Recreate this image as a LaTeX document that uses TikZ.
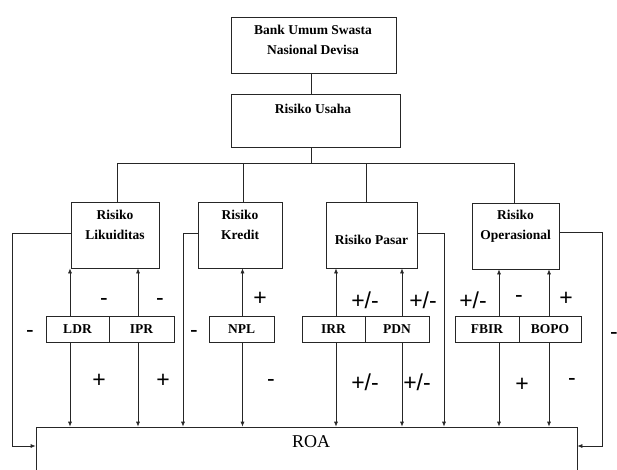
\documentclass[tikz,border=0pt]{standalone}
\usepackage{fontspec}
\setmainfont{Liberation Serif}
\newfontfamily\sgnfont{Liberation Sans}
\usetikzlibrary{arrows.meta}
\begin{document}
\begin{tikzpicture}[x=1pt,y=-1pt,
  box/.style={draw=black!85, line width=0.7pt, rectangle, inner sep=0pt},
  lbl/.style={font=\bfseries\fontsize{13.5}{20}\selectfont, inner sep=0pt, align=center},
  sgn/.style={font=\sgnfont\fontsize{23}{23}\selectfont, inner sep=0pt},
  ln/.style={draw=black!85, line width=0.7pt},
  arr/.style={ln, -{Latex[length=5pt,width=4pt]}},
]
\path[use as bounding box, clip] (0,0) rectangle (617,469);
% top boxes
\node[box, minimum width=165pt, minimum height=56pt] (bank) at (313.5,45) {};
\node[lbl] (bankT) at (313,40) {Bank Umum Swasta\\Nasional Devisa};
\node[box, minimum width=169pt, minimum height=53pt] (usaha) at (315.5,120.5) {};
\node[lbl] (usahaT) at (313,109) {Risiko Usaha};
% risk boxes
\node[box, minimum width=88pt, minimum height=66pt] (liq) at (115,235) {};
\node[lbl] (liqT) at (115,225) {Risiko\\Likuiditas};
\node[box, minimum width=84pt, minimum height=66pt] (kre) at (240,235) {};
\node[lbl] (kreT) at (240,225) {Risiko\\Kredit};
\node[box, minimum width=91pt, minimum height=66pt] (pas) at (371.5,235) {};
\node[lbl] (pasT) at (371.5,240) {Risiko Pasar};
\node[box, minimum width=87pt, minimum height=66pt] (ops) at (515.5,236) {};
\node[lbl] (opsT) at (515.5,226) {Risiko\\Operasional};
% indicator boxes
\node[box, lbl, minimum width=63pt, minimum height=26pt] (ldr) at (77.5,329) {LDR};
\node[box, lbl, minimum width=65pt, minimum height=26pt] (ipr) at (141.5,329) {IPR};
\node[box, lbl, minimum width=65pt, minimum height=26pt] (npl) at (241.5,329) {NPL};
\node[box, lbl, minimum width=63pt, minimum height=26pt] (irr) at (333.5,329) {IRR};
\node[box, lbl, minimum width=64pt, minimum height=26pt] (pdn) at (397,329) {PDN};
\node[box, lbl, minimum width=64pt, minimum height=26pt] (fbir) at (487,329) {FBIR};
\node[box, lbl, minimum width=62pt, minimum height=26pt] (bopo) at (550,329) {BOPO};
% ROA
\node[box, minimum width=541pt, minimum height=70pt] (roa) at (306.5,462) {};
\node[font=\fontsize{18}{18}\selectfont, inner sep=0pt] (roaT) at (311,442) {ROA};
% tree connectors
\coordinate (busC) at (311,163);
\coordinate (busL) at (117,163);
\coordinate (bus2) at (243,163);
\coordinate (bus3) at (366,163);
\coordinate (busR) at (514,163);
\draw[ln] (bank.south -| busC) -- (usaha.north -| busC);
\draw[ln] (usaha.south -| busC) -- (busC);
\draw[ln] (busL) -- (busR);
\draw[ln] (busL) -- (liq.north -| busL);
\draw[ln] (bus2) -- (kre.north -| bus2);
\draw[ln] (bus3) -- (pas.north -| bus3);
\draw[ln] (busR) -- (ops.north -| busR);
% indicator arrows
\coordinate (xLDR) at (70,0);
\coordinate (xIPR) at (138,0);
\coordinate (xNPL) at (242.5,0);
\coordinate (xIRR) at (336,0);
\coordinate (xPDN) at (402,0);
\coordinate (xFBIR) at (499,0);
\coordinate (xBOPO) at (549,0);
\draw[arr] (ldr.north -| xLDR) -- (liq.south -| xLDR);
\draw[arr] (ldr.south -| xLDR) -- (roa.north -| xLDR);
\draw[arr] (ipr.north -| xIPR) -- (liq.south -| xIPR);
\draw[arr] (ipr.south -| xIPR) -- (roa.north -| xIPR);
\draw[arr] (npl.north -| xNPL) -- (kre.south -| xNPL);
\draw[arr] (npl.south -| xNPL) -- (roa.north -| xNPL);
\draw[arr] (irr.north -| xIRR) -- (pas.south -| xIRR);
\draw[arr] (irr.south -| xIRR) -- (roa.north -| xIRR);
\draw[arr] (pdn.north -| xPDN) -- (pas.south -| xPDN);
\draw[arr] (pdn.south -| xPDN) -- (roa.north -| xPDN);
\draw[arr] (fbir.north -| xFBIR) -- (ops.south -| xFBIR);
\draw[arr] (fbir.south -| xFBIR) -- (roa.north -| xFBIR);
\draw[arr] (bopo.north -| xBOPO) -- (ops.south -| xBOPO);
\draw[arr] (bopo.south -| xBOPO) -- (roa.north -| xBOPO);
% feedback lines
\coordinate (fL) at (12,233);
\coordinate (fLb) at (12,446);
\draw[arr] (liq.west |- fL) -- (fL) -- (fLb) -- (roa.west |- fLb);
\coordinate (fK) at (183,233);
\draw[arr] (kre.west |- fK) -- (fK) -- (fK |- roa.north);
\coordinate (fP) at (444,233);
\draw[arr] (pas.east |- fP) -- (fP) -- (fP |- roa.north);
\coordinate (fO) at (602,232);
\coordinate (fOb) at (602,446);
\draw[arr] (ops.east |- fO) -- (fO) -- (fOb) -- (roa.east |- fOb);
% signs
\node[sgn] (s1) at (104,302) {-};
\node[sgn] (s2) at (160,302) {-};
\node[sgn] (s3) at (30,334) {-};
\node[sgn] (s4) at (99,381) {+};
\node[sgn] (s5) at (163,381) {+};
\node[sgn] (s6) at (194,334) {-};
\node[sgn] (s7) at (260,299) {+};
\node[sgn] (s8) at (271,383) {-};
\node[sgn] (s9) at (365,300) {+/-};
\node[sgn] (s10) at (423,300) {+/-};
\node[sgn] (s11) at (365,382) {+/-};
\node[sgn] (s12) at (417,382) {+/-};
\node[sgn] (s13) at (473,300) {+/-};
\node[sgn] (s14) at (519,299) {-};
\node[sgn] (s15) at (566,299) {+};
\node[sgn] (s16) at (522,385) {+};
\node[sgn] (s17) at (572,382) {-};
\node[sgn] (s18) at (614,336) {-};
\end{tikzpicture}
\end{document}
